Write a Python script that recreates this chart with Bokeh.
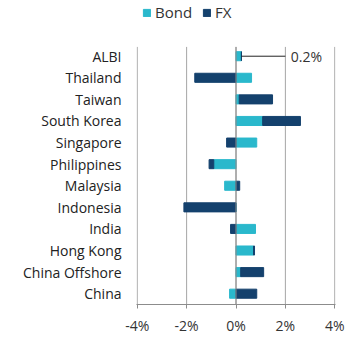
from bokeh.plotting import figure
from bokeh.models import Legend, LegendItem, Range1d, FixedTicker, ColumnDataSource
from bokeh.embed import file_html
from bokeh.resources import INLINE
from bokeh.core.properties import value

categories = ["ALBI", "Thailand", "Taiwan", "South Korea", "Singapore", "Philippines",
              "Malaysia", "Indonesia", "India", "Hong Kong", "China Offshore", "China"]
bond = [0.22, 0.63, 0.13, 1.08, 0.84, -0.90, -0.46, 0.0, 0.79, 0.71, 0.19, -0.26]
fx = [0.0, -1.67, 1.35, 1.53, -0.38, -0.19, 0.15, -2.11, -0.22, 0.04, 0.93, 0.84]
albi_label = "0.2%"
tick_values = [-4, -2, 0, 2, 4]

BOND_C = "#2AB8CC"
FX_C = "#14416D"
FONT = "Open Sans"

pos = list(range(len(categories)))

# diverging stacking: each sign stacks from zero on its own side
bond_l = [min(0, b) for b in bond]
bond_r = [max(0, b) for b in bond]
fx_l, fx_r = [], []
for b, f in zip(bond, fx):
    if f >= 0:
        base = b if b > 0 else 0
        fx_l.append(base); fx_r.append(base + f)
    else:
        base = b if b < 0 else 0
        fx_l.append(base + f); fx_r.append(base)

src = ColumnDataSource(dict(y=pos, bl=bond_l, br=bond_r, fl=fx_l, fr=fx_r))

p = figure(width=359, height=352,
           y_range=Range1d(start=len(categories) - 0.5, end=-2.58),
           x_range=Range1d(-4.03, 4.03), output_backend="svg", toolbar_location=None,
           min_border_left=136, min_border_right=24, min_border_top=0, min_border_bottom=48)
p.outline_line_color = None
p.background_fill_color = "white"
p.border_fill_color = "white"
p.xgrid.grid_line_color = None
p.ygrid.grid_line_color = None

# vertical grid lines spanning only the category rows
p.segment(x0=tick_values, y0=[-0.43] * len(tick_values), x1=tick_values,
          y1=[len(categories) - 0.5] * len(tick_values), line_color="#A6A6A6", line_width=1)

r_bond = p.hbar(y="y", left="bl", right="br", height=0.42, color=BOND_C, source=src)
r_fx = p.hbar(y="y", left="fl", right="fr", height=0.42, color=FX_C, source=src)

p.segment(x0=[0], y0=[-0.43], x1=[0], y1=[len(categories) - 0.5],
          line_color="#8A8A8A", line_width=1)

# leader line and label for ALBI
p.segment(x0=[bond_r[0]], y0=[0], x1=[2], y1=[0], line_color="#222222", line_width=1)
p.text(x=[2.22], y=[0], text=[albi_label], text_font=value(FONT),
       text_font_size="14px", text_color="#333333", text_baseline="middle", text_align="left")

p.xaxis.ticker = FixedTicker(ticks=tick_values)
p.xaxis.major_label_overrides = {t: f"{t}%" for t in tick_values}
p.xaxis.axis_line_color = "#8C8C8C"
p.xaxis.major_tick_line_color = "#8C8C8C"
p.xaxis.major_tick_in = 0
p.xaxis.major_tick_out = 4
p.xaxis.minor_tick_line_color = None
p.xaxis.major_label_text_font = FONT
p.xaxis.major_label_text_font_size = "14px"
p.xaxis.major_label_text_color = "#333333"
p.xaxis.major_label_standoff = 7

p.yaxis.ticker = FixedTicker(ticks=pos)
p.yaxis.major_label_overrides = {i: c for i, c in zip(pos, categories)}
p.yaxis.axis_line_color = None
p.yaxis.major_tick_line_color = None
p.yaxis.minor_tick_line_color = None
p.yaxis.major_tick_out = 0
p.yaxis.major_tick_in = 0
p.yaxis.major_label_text_font = FONT
p.yaxis.major_label_text_font_size = "14px"
p.yaxis.major_label_text_color = "#222222"
p.yaxis.major_label_standoff = 15

legend = Legend(items=[LegendItem(label="Bond", renderers=[r_bond]),
                       LegendItem(label="FX", renderers=[r_fx])],
                orientation="horizontal", location=(6, 282),
                label_text_font=FONT, label_text_font_size="15px", label_text_color="#333333",
                glyph_width=9, glyph_height=9, label_standoff=4, spacing=10,
                padding=1, margin=0, border_line_color=None, background_fill_alpha=0)
p.add_layout(legend, "center")

open("out.html", "w").write(file_html(p, INLINE))
